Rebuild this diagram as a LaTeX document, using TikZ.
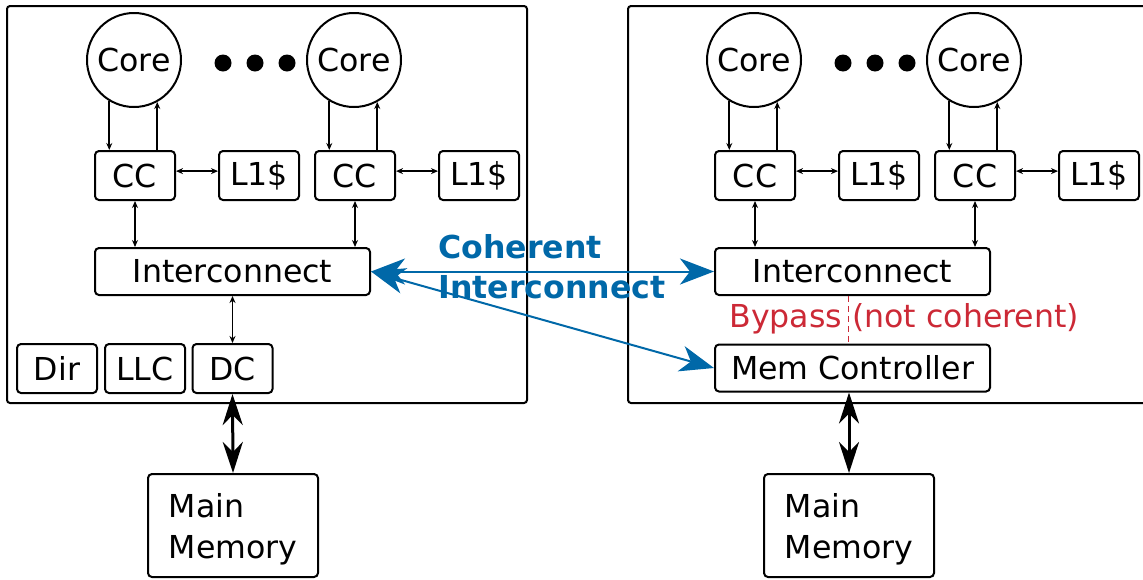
\documentclass[tikz,border=0pt]{standalone}
\usepackage{fontspec}
\setmainfont{DejaVu Sans}
\usetikzlibrary{arrows.meta}
\definecolor{cohblue}{RGB}{0,104,168}
\definecolor{bypred}{RGB}{204,41,54}
\tikzset{
  lbl/.style={font=\fontsize{15.8}{19}\selectfont},
  chip/.style={draw, line width=1pt, rounded corners=1.5pt},
  blk/.style={lbl, draw, line width=1pt, rounded corners=2pt, inner sep=0pt,
    minimum width=40pt, minimum height=24.5pt},
  wide/.style={blk, minimum width=137.5pt, minimum height=23.5pt},
  mem/.style={blk, minimum width=85pt, minimum height=51.5pt, align=left,
    font=\fontsize{15.8}{20.5}\selectfont},
  cpu/.style={lbl, draw, circle, line width=1pt, minimum size=47pt, inner sep=0pt},
  dotc/.style={fill=black, circle, minimum size=8.5pt, inner sep=0pt},
  sarr/.style={line width=0.85pt, -{Stealth[length=3.5pt,width=3pt]}},
  sdarr/.style={line width=0.85pt, {Stealth[length=3.5pt,width=3pt]}-{Stealth[length=3.5pt,width=3pt]}},
  memarr/.style={line width=1.5pt, {Stealth[length=15.5pt,width=10pt,inset=5pt]}-{Stealth[length=15.5pt,width=10pt,inset=5pt]}},
  coh/.style={cohblue, line width=1pt, {Stealth[length=17pt,width=13pt,inset=5pt]}-{Stealth[length=17pt,width=13pt,inset=5pt]}},
}
\begin{document}
\begin{tikzpicture}[x=0.5pt, y=-0.5pt]
  \useasboundingbox (0,0) rectangle (1143,579);

  % chip outlines
  \draw[chip] (7,6) rectangle (527,403);
  \draw[chip] (628,6) rectangle (1150,403);

  % ---- left chip ----
  \node[cpu] (c1) at (134,60) {Core};
  \node[cpu] (c2) at (354,60) {Core};
  \node[dotc] (d1) at (223,63) {};
  \node[dotc] (d2) at (255,63) {};
  \node[dotc] (d3) at (287,63) {};
  \node[blk] (cc1) at (135,175.5) {CC};
  \node[blk] (la1) at (259,175.5) {L1\$};
  \node[blk] (cc2) at (355,175.5) {CC};
  \node[blk] (la2) at (479,175.5) {L1\$};
  \node[wide] (ic1) at (232.5,271.5) {Interconnect};
  \node[blk] (dir) at (57,368.5) {Dir};
  \node[blk] (llc) at (145,368.5) {LLC};
  \node[blk] (dc) at (232.5,368.5) {DC};
  \node[mem] (mm1) at (233,525.5) {\rule{0pt}{16pt}Main\\Memory};

  % ---- right chip ----
  \node[cpu] (c3) at (754,60) {Core};
  \node[cpu] (c4) at (974,60) {Core};
  \node[dotc] (d4) at (843,63) {};
  \node[dotc] (d5) at (875,63) {};
  \node[dotc] (d6) at (907,63) {};
  \node[blk] (cc3) at (755,175.5) {CC};
  \node[blk] (la3) at (879,175.5) {L1\$};
  \node[blk] (cc4) at (975,175.5) {CC};
  \node[blk] (la4) at (1099,175.5) {L1\$};
  \node[wide] (ic2) at (852.5,271.5) {Interconnect};
  \node[wide] (mc) at (852.5,368) {Mem Controller};
  \node[mem] (mm2) at (849,525.5) {\rule{0pt}{16pt}Main\\Memory};

  % core <-> cache controller links
  \foreach \c/\k in {c1/cc1, c2/cc2, c3/cc3, c4/cc4} {
    \draw[sarr] (\c.239) -- (\c.239 |- \k.north);
    \draw[sarr] (\c.299 |- \k.north) -- (\c.299);
  }
  % cache controller <-> L1
  \foreach \k/\l in {cc1/la1, cc2/la2, cc3/la3, cc4/la4}
    \draw[sdarr] ([yshift=2.2pt]\k.east) -- ([yshift=2.2pt]\l.west);
  % cache controller <-> interconnect
  \draw[sdarr] (cc1.south) -- (cc1.south |- ic1.north);
  \draw[sdarr] (cc2.south) -- (cc2.south |- ic1.north);
  \draw[sdarr] (cc3.south) -- (cc3.south |- ic2.north);
  \draw[sdarr] (cc4.south) -- (cc4.south |- ic2.north);
  \draw[sdarr] (dc.north |- ic1.south) -- (dc.north);

  % memory channels
  \draw[memarr] (dc.south) -- (mm1.north);
  \draw[memarr] (mm2.north |- mc.south) -- (mm2.north);

  % bypass path
  \draw[bypred, line width=0.9pt, dash pattern=on 3pt off 2pt]
    ([xshift=-2pt]ic2.south) -- ([xshift=-2pt]mc.north);
  \node[lbl, text=bypred, anchor=base west, inner sep=0pt] (byp) at (729,327)
    {Bypass (not coherent)};

  % coherent links between chips
  \draw[coh] (ic1.east) -- (ic2.west);
  \draw[coh] (ic1.east) -- (mc.west);
  \node[anchor=north west, inner sep=0pt, align=left, text=cohblue,
    font=\fontsize{15.8}{20}\selectfont\bfseries] (cohl) at (438,234)
    {Coherent\\Interconnect};
\end{tikzpicture}
\end{document}
